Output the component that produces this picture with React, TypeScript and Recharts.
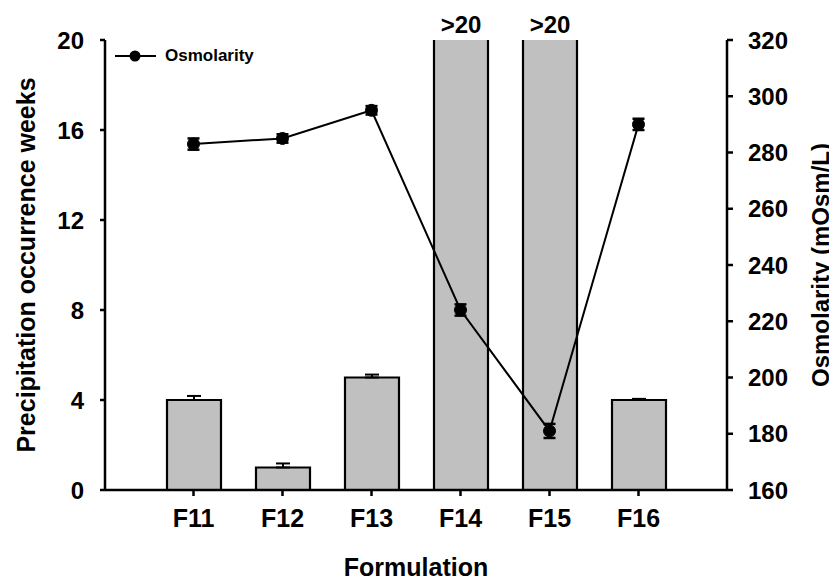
import { Bar, ComposedChart, ErrorBar, LabelList, Legend, Line, XAxis, YAxis } from "recharts"

// values
const formulations = ["F11", "F12", "F13", "F14", "F15", "F16"]
const weeks = [4, 1, 5, 20, 20, 4]
const weeksErr = [0.18, 0.18, 0.13, null, null, 0.05]
const overflowNote = ["", "", "", ">20", ">20", ""]
const osmolarity = [283, 285, 295, 224, 181, 290]
const osmolarityErr = [2, 1.5, 1.5, 2, 2.5, 2]

const leftTicks = [0, 4, 8, 12, 16, 20]
const rightTicks = [160, 180, 200, 220, 240, 260, 280, 300, 320]

const data = formulations.map((name, i) => ({
    name,
    weeks: weeks[i],
    weeksErr: weeksErr[i] == null ? null : [0, weeksErr[i]],
    note: overflowNote[i],
    osm: osmolarity[i],
    osmErr: osmolarityErr[i],
}))

const FONT = "'Liberation Sans', Arial, sans-serif"
const xTickStyle = { fill: "#000", fontSize: 25, fontWeight: 700, fontFamily: FONT }
const yTickStyle = { fill: "#000", fontSize: 24, fontWeight: 700, fontFamily: FONT }
const titleStyle = { fill: "#000", fontSize: 25, fontWeight: 700, fontFamily: FONT, textAnchor: "middle" as const }

// bars that run past the axis top get no top edge
const BarShape = (props: any) => {
    const { x, y, width, height, payload } = props
    if (!payload) return null
    const outline = payload.note
        ? `M${x},${y + height} L${x},${y} M${x + width},${y} L${x + width},${y + height}`
        : `M${x},${y + height} L${x},${y} L${x + width},${y} L${x + width},${y + height}`
    return (
        <g>
            <rect x={x} y={y} width={width} height={height} fill="#c0c0c0" />
            <path d={outline} stroke="#000" strokeWidth={2.2} fill="none" />
        </g>
    )
}

const LegendContent = () => (
    <div style={{ display: "flex", alignItems: "center", fontFamily: FONT, fontWeight: 700, fontSize: 17 }}>
        <svg width={44} height={14}>
            <line x1={1} y1={7} x2={42} y2={7} stroke="#000" strokeWidth={2} />
            <circle cx={21} cy={7} r={5.5} fill="#000" />
        </svg>
        <span style={{ marginLeft: 7 }}>Osmolarity</span>
    </div>
)

export default function App() {
    return (
        <div style={{ width: 829, height: 572 }}>
            <ComposedChart width={829} height={572} data={data} margin={{ top: 32, right: 0, left: 0, bottom: 0 }}>
                <XAxis
                    dataKey="name"
                    padding={{ left: 44, right: 44 }}
                    height={90}
                    stroke="#000"
                    strokeWidth={2.5}
                    tick={xTickStyle}
                    tickSize={6}
                    tickMargin={13}
                    label={{ value: "Formulation", position: "insideBottom", offset: 4, style: titleStyle }}
                />
                <YAxis
                    yAxisId="left"
                    domain={[0, 20]}
                    ticks={leftTicks}
                    width={97}
                    stroke="#000"
                    strokeWidth={2.5}
                    tick={yTickStyle}
                    tickSize={5}
                    tickMargin={16}
                    label={{ value: "Precipitation occurrence weeks", angle: -90, position: "insideLeft", offset: 18, style: titleStyle }}
                />
                <YAxis
                    yAxisId="right"
                    orientation="right"
                    domain={[160, 320]}
                    ticks={rightTicks}
                    width={110}
                    stroke="#000"
                    strokeWidth={2.5}
                    tick={yTickStyle}
                    tickSize={6}
                    tickMargin={15}
                    label={{ value: "Osmolarity (mOsm/L)", angle: -90, position: "insideRight", offset: 17, style: { ...titleStyle, fontSize: 24 } }}
                />
                <Legend
                    layout="vertical"
                    align="center"
                    verticalAlign="middle"
                    content={<LegendContent />}
                    wrapperStyle={{ top: 38, left: 106 }}
                />
                <Bar yAxisId="left" dataKey="weeks" barSize={54} shape={BarShape} isAnimationActive={false} legendType="none">
                    <ErrorBar dataKey="weeksErr" width={7} stroke="#000" strokeWidth={2} />
                    <LabelList dataKey="note" position="top" offset={7} style={{ fill: "#000", fontSize: 24, fontWeight: 700, fontFamily: FONT }} />
                </Bar>
                <Line
                    yAxisId="right"
                    dataKey="osm"
                    stroke="#000"
                    strokeWidth={2}
                    dot={{ r: 6, fill: "#000", stroke: "#000", strokeWidth: 1 }}
                    isAnimationActive={false}
                >
                    <ErrorBar dataKey="osmErr" width={6} stroke="#000" strokeWidth={2.5} />
                </Line>
            </ComposedChart>
        </div>
    )
}
